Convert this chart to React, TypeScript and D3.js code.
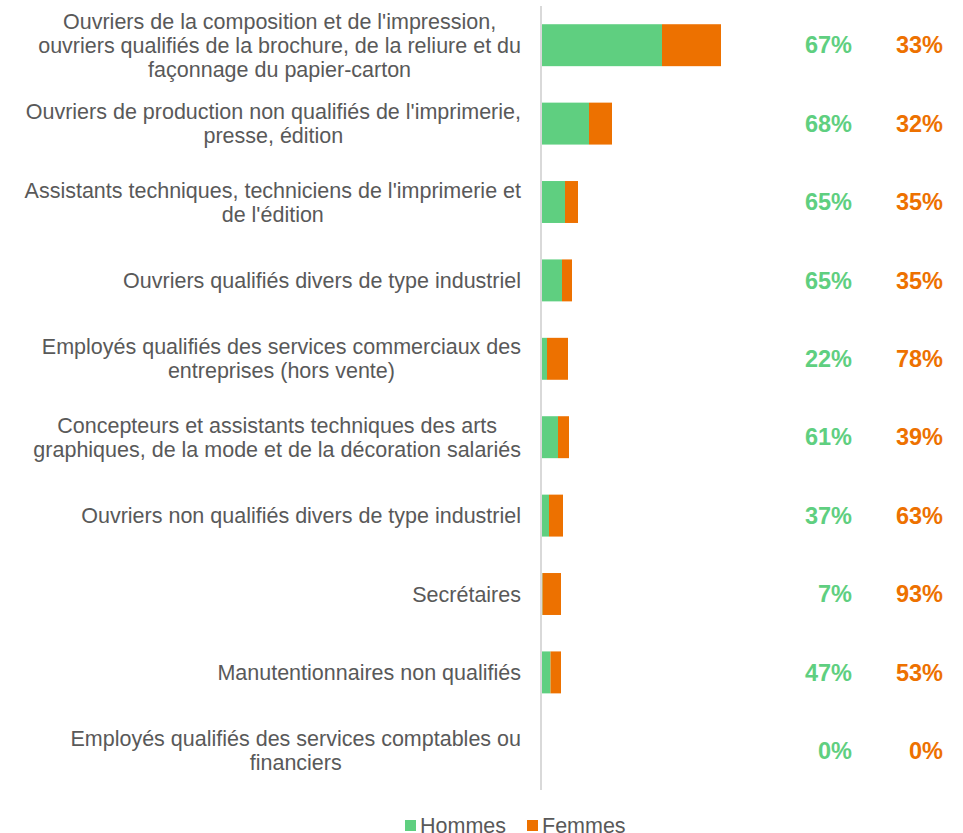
import React, { useRef, useEffect } from 'react';
import * as d3 from 'd3';

const categories = [
  "Ouvriers de la composition et de l'impression,|ouvriers qualifiés de la brochure, de la reliure et du|façonnage du papier-carton",
  "Ouvriers de production non qualifiés de l'imprimerie,|presse, édition",
  "Assistants techniques, techniciens de l'imprimerie et|de l'édition",
  'Ouvriers qualifiés divers de type industriel',
  'Employés qualifiés des services commerciaux des|entreprises (hors vente)',
  'Concepteurs et assistants techniques des arts|graphiques, de la mode et de la décoration salariés',
  'Ouvriers non qualifiés divers de type industriel',
  'Secrétaires',
  'Manutentionnaires non qualifiés',
  'Employés qualifiés des services comptables ou|financiers',
];

const hommes = [121, 48, 24, 21, 6, 17, 8, 1.5, 9.5, 0];
const femmes = [59, 23, 13, 10, 21, 11, 14, 18.5, 10.5, 0];
const pctHommes = ['67%', '68%', '65%', '65%', '22%', '61%', '37%', '7%', '47%', '0%'];
const pctFemmes = ['33%', '32%', '35%', '35%', '78%', '39%', '63%', '93%', '53%', '0%'];

const GREEN = '#5fcf80';
const ORANGE = '#ed7100';
const FONT = '"Liberation Sans", Arial, sans-serif';

const BarChart = () => {
  const svgRef = useRef<SVGSVGElement>(null);

  useEffect(() => {
    const svg = d3.select(svgRef.current);
    svg.selectAll('*').remove();

    const width = 963;
    const height = 833;
    const axisX = 541;
    const labelRight = 521;
    const top = 6;
    const bottom = 790;

    const y = d3
      .scaleBand<number>()
      .domain(d3.range(categories.length))
      .range([top, bottom])
      .paddingInner(0.465)
      .paddingOuter(0.2325);

    const x = d3.scaleLinear().domain([0, 180]).range([axisX, axisX + 180]);

    const rows = svg
      .attr('width', width)
      .attr('height', height)
      .selectAll('g.row')
      .data(categories)
      .enter()
      .append('g')
      .attr('class', 'row');

    // bars
    rows
      .append('rect')
      .attr('x', x(0))
      .attr('y', (_, i) => y(i)!)
      .attr('width', (_, i) => x(hommes[i]) - x(0))
      .attr('height', y.bandwidth())
      .attr('fill', GREEN);

    rows
      .append('rect')
      .attr('x', (_, i) => x(hommes[i]))
      .attr('y', (_, i) => y(i)!)
      .attr('width', (_, i) => x(hommes[i] + femmes[i]) - x(hommes[i]))
      .attr('height', y.bandwidth())
      .attr('fill', ORANGE);

    // category labels: block right-aligned, lines centred inside the block
    rows.each(function (d, i) {
      const lines = d.split('|');
      const cy = y(i)! + y.bandwidth() / 2;
      const lh = 24;
      const t = d3
        .select(this)
        .append('text')
        .attr('text-anchor', 'middle')
        .attr('font-family', FONT)
        .attr('font-size', 21.5)
        .attr('fill', '#595959');
      const spans = lines.map((ln, k) =>
        t
          .append('tspan')
          .attr('y', cy + (k - (lines.length - 1) / 2) * lh)
          .attr('dy', '0.35em')
          .text(ln)
      );
      const maxW = d3.max(spans, (s) => (s.node() as SVGTSpanElement).getComputedTextLength()) || 0;
      spans.forEach((s) => s.attr('x', labelRight - maxW / 2));
    });

    // percentages
    rows
      .append('text')
      .attr('x', 852)
      .attr('y', (_, i) => y(i)! + y.bandwidth() / 2)
      .attr('dy', '0.35em')
      .attr('text-anchor', 'end')
      .attr('font-family', FONT)
      .attr('font-weight', 'bold')
      .attr('font-size', 23.5)
      .attr('fill', GREEN)
      .text((_, i) => pctHommes[i]);

    rows
      .append('text')
      .attr('x', 943)
      .attr('y', (_, i) => y(i)! + y.bandwidth() / 2)
      .attr('dy', '0.35em')
      .attr('text-anchor', 'end')
      .attr('font-family', FONT)
      .attr('font-weight', 'bold')
      .attr('font-size', 23.5)
      .attr('fill', ORANGE)
      .text((_, i) => pctFemmes[i]);

    // axis line
    svg
      .append('line')
      .attr('x1', axisX)
      .attr('x2', axisX)
      .attr('y1', top)
      .attr('y2', bottom)
      .attr('stroke', '#d9d9d9')
      .attr('stroke-width', 2);

    // legend
    const legend = svg
      .selectAll('.legend')
      .data([
        { name: 'Hommes', color: GREEN, x: 405 },
        { name: 'Femmes', color: ORANGE, x: 527 },
      ])
      .enter()
      .append('g')
      .attr('transform', (d) => `translate(${d.x}, 820)`);

    legend.append('rect').attr('width', 11).attr('height', 11).attr('fill', (d) => d.color);

    legend
      .append('text')
      .attr('x', 15)
      .attr('y', 5.5)
      .attr('dy', '0.35em')
      .attr('font-family', FONT)
      .attr('font-size', 21.5)
      .attr('fill', '#595959')
      .text((d) => d.name);
  }, []);

  return <svg ref={svgRef} style={{ position: 'absolute', left: 0, top: 0 }} />;
};

export default function App() {
  return <BarChart />;
}
